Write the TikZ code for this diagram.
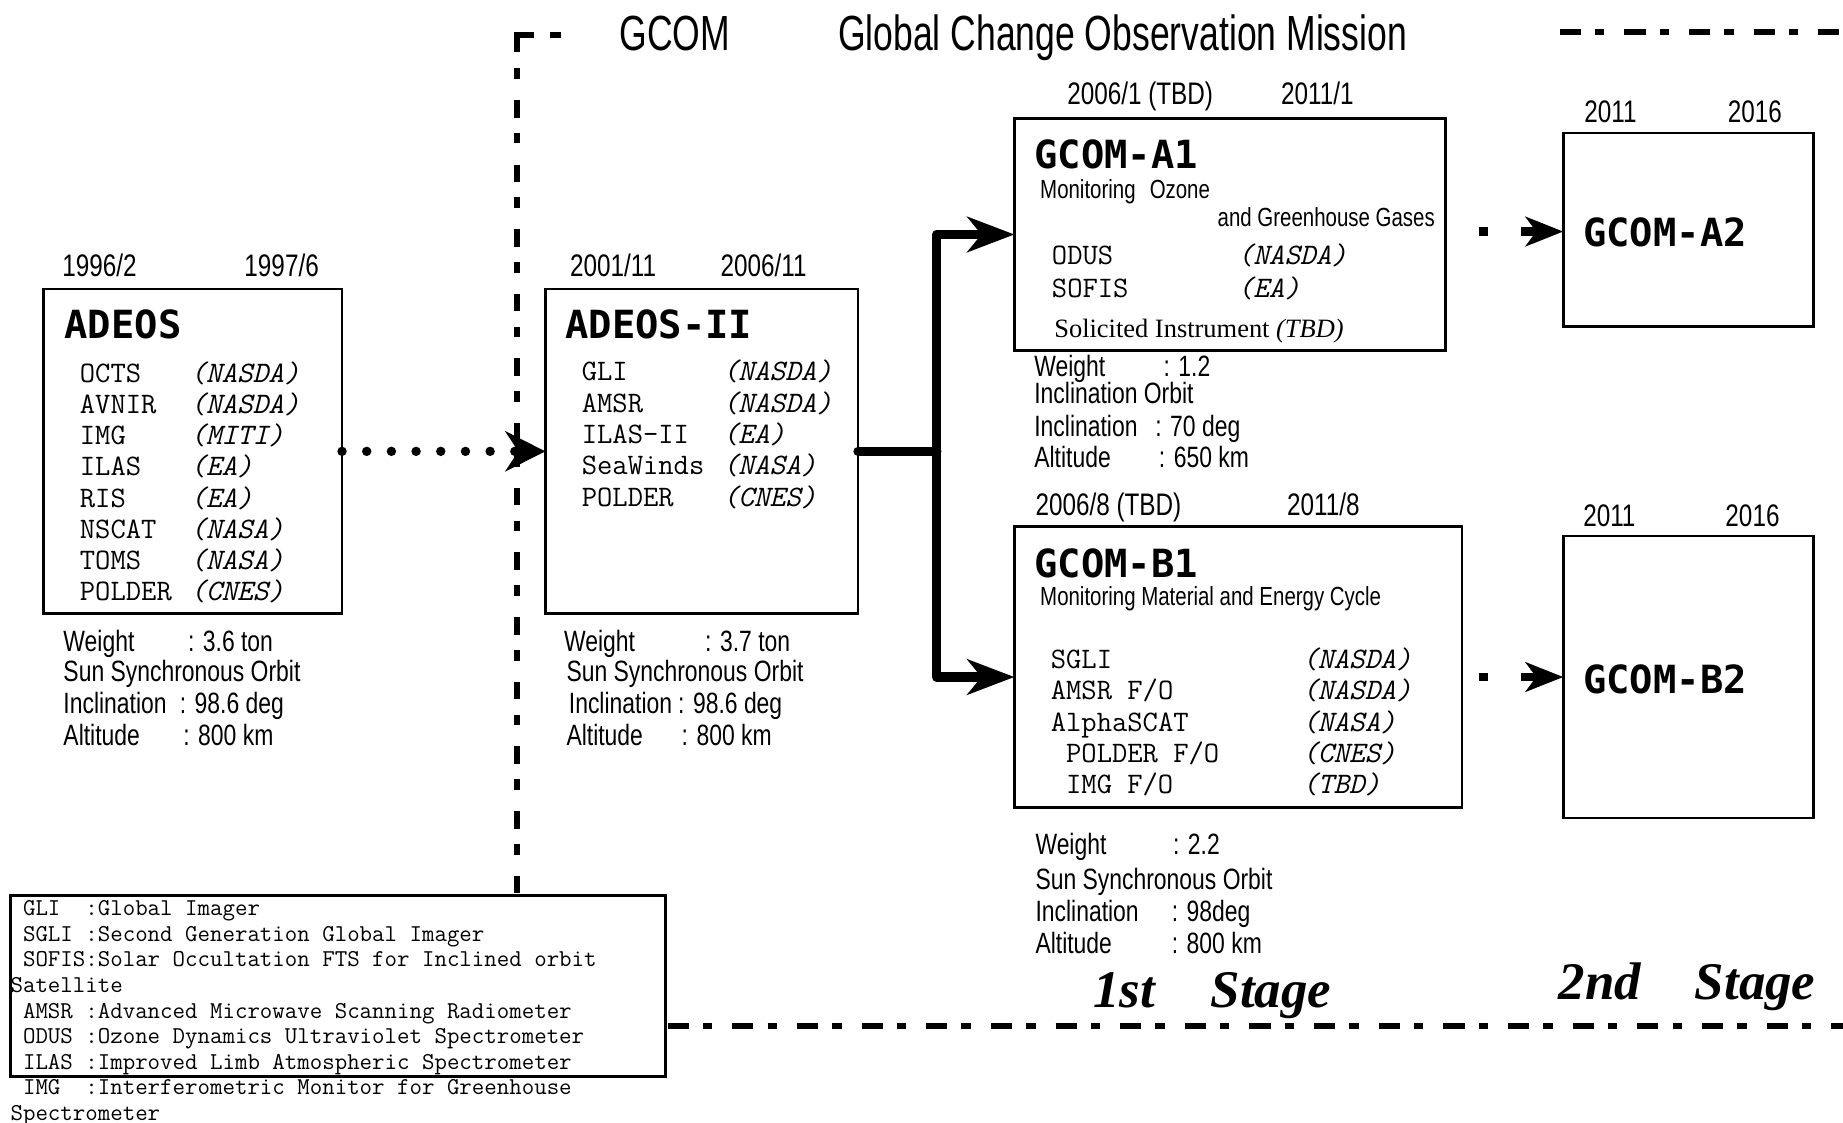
\documentclass[tikz,border=0pt]{standalone}
\usepackage{fontspec}
\setmainfont{Liberation Serif}
\newfontfamily\condf[FakeStretch=0.78]{Liberation Sans}
\newfontfamily\hdrf[FakeStretch=0.72]{Liberation Sans}
\newfontfamily\ttlf{DejaVu Sans Mono}
\usetikzlibrary{arrows.meta}
\tikzset{
  box/.style={draw, line width=2.2pt, inner sep=0pt, outer sep=0pt, anchor=north west},
  txt/.style={inner sep=0pt, outer sep=0pt, anchor=base west},
  datef/.style={txt, font=\condf\fontsize{26.5}{31}\selectfont},
  infof/.style={txt, font=\condf\fontsize{25}{29}\selectfont},
  monf/.style={txt, font=\condf\fontsize{22.3}{26}\selectfont},
  hdr/.style={txt, font=\hdrf\fontsize{42}{48}\selectfont},
  ttl/.style={txt, font=\ttlf\bfseries\fontsize{33}{38}\selectfont},
  inst/.style={txt, font=\ttfamily\fontsize{25.3}{#1}\selectfont},
  inst/.default=26.6,
  legf/.style={txt, font=\ttfamily\fontsize{20.6}{21.8}\selectfont},
  serf/.style={txt, font=\rmfamily\fontsize{22.5}{26}\selectfont},
  stagef/.style={txt, font=\rmfamily\bfseries\itshape\fontsize{45}{50}\selectfont},
  frm/.style={line width=5pt},
  frmdash/.style={frm, dash pattern=on 18pt off 12pt on 8pt off 17pt},
  conn/.style={line width=8pt, line join=round, line cap=round},
  connarr/.style={conn, -{Stealth[length=40pt,width=30pt,inset=12pt]}},
  dotarr/.style={line width=8pt, line cap=round, dash pattern=on 0pt off 21pt,
    -{Stealth[length=34pt,width=34pt,inset=11pt]}},
  dasharr/.style={line width=7.5pt, -{Stealth[length=32pt,width=25pt,inset=9pt]}}
}
\begin{document}
\begin{tikzpicture}[x=1pt,y=-1pt]
\fill[white] (0,0) rectangle (1568,955);
\useasboundingbox (0,0) rectangle (1568,955);

% header
\node[hdr] (h1) at (527,43) {GCOM};
\node[hdr] (h2) at (713,43) {Global Change Observation Mission};

% frame
\draw[frm] (454,30) -- (440,30) -- (440,44);
\draw[frm] (468,30) -- (477,30);
\draw[frm, dash pattern=on 9pt off 18pt on 15pt off 13pt] (440,58) -- (440,762);
\draw[frmdash] (1327,27) -- (1568,27);
\draw[frmdash] (568,873) -- (1568,873);

% boxes
\node[box, minimum width=254pt, minimum height=276pt] (adeos) at (37,246) {};
\node[box, minimum width=266pt, minimum height=276pt] (adeos2) at (464,246) {};
\node[box, minimum width=367pt, minimum height=197pt] (a1) at (863,101) {};
\node[box, minimum width=381pt, minimum height=239pt] (b1) at (863,448) {};
\node[box, minimum width=213pt, minimum height=165pt] (a2) at (1330,113) {};
\node[box, minimum width=213pt, minimum height=240pt] (b2) at (1330,456) {};
\node[box, minimum width=557pt, minimum height=154pt] (leg) at (9,762) {};

% dates
\node[datef] (ad-d1) at (53,235) {1996/2};
\node[datef] (ad-d2) at (208,235) {1997/6};
\node[datef] (ad2-d1) at (485,235) {2001/11};
\node[datef] (ad2-d2) at (613,235) {2006/11};
\node[datef] (a1-d1) at (908,89) {2006/1 (TBD)};
\node[datef] (a1-d2) at (1090,89) {2011/1};
\node[datef] (b1-d1) at (881,439) {2006/8 (TBD)};
\node[datef] (b1-d2) at (1095,439) {2011/8};
\node[datef] (a2-d1) at (1348,104) {2011};
\node[datef] (a2-d2) at (1470,104) {2016};
\node[datef] (b2-d1) at (1347,448) {2011};
\node[datef] (b2-d2) at (1468,448) {2016};

% titles
\node[ttl] (ad-t) at (55,288) {ADEOS};
\node[ttl] (ad2-t) at (481,288) {ADEOS-II};
\node[ttl] (a1-t) at (880,143) {GCOM-A1};
\node[ttl] (b1-t) at (880,491) {GCOM-B1};
\node[ttl] (a2-t) at (1347,210) {GCOM-A2};
\node[ttl] (b2-t) at (1347,590) {GCOM-B2};

% instrument lists
\node[inst] (ad-l) at (68,325) {\begin{tabular}[t]{@{}p{94pt}@{}l@{}}
OCTS&\textit{(NASDA)}\\AVNIR&\textit{(NASDA)}\\IMG&\textit{(MITI)}\\ILAS&\textit{(EA)}\\
RIS&\textit{(EA)}\\NSCAT&\textit{(NASA)}\\TOMS&\textit{(NASA)}\\POLDER&\textit{(CNES)}\end{tabular}};
\node[inst=26.7] (ad2-l) at (495,324) {\begin{tabular}[t]{@{}p{120pt}@{}l@{}}
GLI&\textit{(NASDA)}\\AMSR&\textit{(NASDA)}\\ILAS-II&\textit{(EA)}\\SeaWinds&\textit{(NASA)}\\
POLDER&\textit{(CNES)}\end{tabular}};
\node[inst=28] (a1-l) at (895,225) {\begin{tabular}[t]{@{}p{158pt}@{}l@{}}
ODUS&\textit{(NASDA)}\\SOFIS&\textit{(EA)}\end{tabular}};
\node[inst=26.5] (b1-l) at (894,569) {\begin{tabular}[t]{@{}p{214pt}@{}l@{}}
SGLI&\textit{(NASDA)}\\AMSR F/O&\textit{(NASDA)}\\AlphaSCAT&\textit{(NASA)}\\
~POLDER F/O&\textit{(CNES)}\\~IMG F/O&\textit{(TBD)}\end{tabular}};

% mission descriptions
\node[monf] (a1-m1) at (885,169) {Monitoring\hspace{12pt}Ozone};
\node[monf] (a1-m2) at (1036,193) {and Greenhouse Gases};
\node[serf] (a1-s) at (897,287) {Solicited Instrument \textit{(TBD)}};
\node[monf] (b1-m) at (885,515) {Monitoring Material and Energy Cycle};

% info ADEOS
\node[infof] (ad-w) at (54,554) {\makebox[106pt][l]{Weight}: 3.6 ton};
\node[infof] (ad-s) at (54,580) {Sun Synchronous Orbit};
\node[infof] (ad-i) at (54,607) {\makebox[99pt][l]{Inclination}: 98.6 deg};
\node[infof] (ad-a) at (54,634) {\makebox[102pt][l]{Altitude}: 800 km};
% info ADEOS-II
\node[infof] (ad2-w) at (480,554) {\makebox[120pt][l]{Weight}: 3.7 ton};
\node[infof] (ad2-s) at (482,580) {Sun Synchronous Orbit};
\node[infof] (ad2-i) at (484,607) {\makebox[93pt][l]{Inclination}: 98.6 deg};
\node[infof] (ad2-a) at (482,634) {\makebox[98pt][l]{Altitude}: 800 km};
% info A1
\node[infof] (a1-w) at (880,320) {\makebox[110pt][l]{Weight}: 1.2};
\node[infof] (a1-o) at (880,343) {Inclination Orbit};
\node[infof] (a1-i) at (880,371) {\makebox[103pt][l]{Inclination}: 70 deg};
\node[infof] (a1-a) at (880,398) {\makebox[106pt][l]{Altitude}: 650 km};
% info B1
\node[infof] (b1-w) at (881,727) {\makebox[117pt][l]{Weight}: 2.2};
\node[infof] (b1-s) at (881,757) {Sun Synchronous Orbit};
\node[infof] (b1-i) at (881,784) {\makebox[116pt][l]{Inclination}: 98deg};
\node[infof] (b1-a) at (881,811) {\makebox[116pt][l]{Altitude}: 800 km};

% stages
\node[stagef] (st1a) at (930,857) {1st};
\node[stagef] (st1b) at (1030,857) {Stage};
\node[stagef] (st2a) at (1326,850) {2nd};
\node[stagef] (st2b) at (1442,850) {Stage};

% legend
\node[legf] (leg-t) at (9,779) {\begin{tabular}[t]{@{}l@{}}
~GLI~~:Global Imager\\
~SGLI~:Second Generation Global Imager\\
~SOFIS:Solar Occultation FTS for Inclined orbit\\
Satellite\\
~AMSR~:Advanced Microwave Scanning Radiometer\\
~ODUS~:Ozone Dynamics Ultraviolet Spectrometer\\
~ILAS~:Improved Limb Atmospheric Spectrometer\\
~IMG~~:Interferometric Monitor for Greenhouse\\
Spectrometer\end{tabular}};

% connectors
\draw[dotarr] (adeos.east) -- (adeos2.west);
\coordinate (jn) at (797,384);
\coordinate (bj) at (863,576);
\draw[conn] (adeos2.east) -- (jn);
\draw[connarr] (jn) |- (a1.west);
\draw[connarr] (jn) |- (b1.west |- bj);
\coordinate (ya) at (0,197);
\coordinate (yb) at (0,576);
\draw[dasharr, dash pattern=on 0pt off 28pt on 8pt off 28pt on 300pt off 0pt] (a1.east |- ya) -- (a2.west |- ya);
\draw[dasharr, dash pattern=on 0pt off 14pt on 8pt off 28pt on 300pt off 0pt] (b1.east |- yb) -- (b2.west |- yb);
\end{tikzpicture}
\end{document}
